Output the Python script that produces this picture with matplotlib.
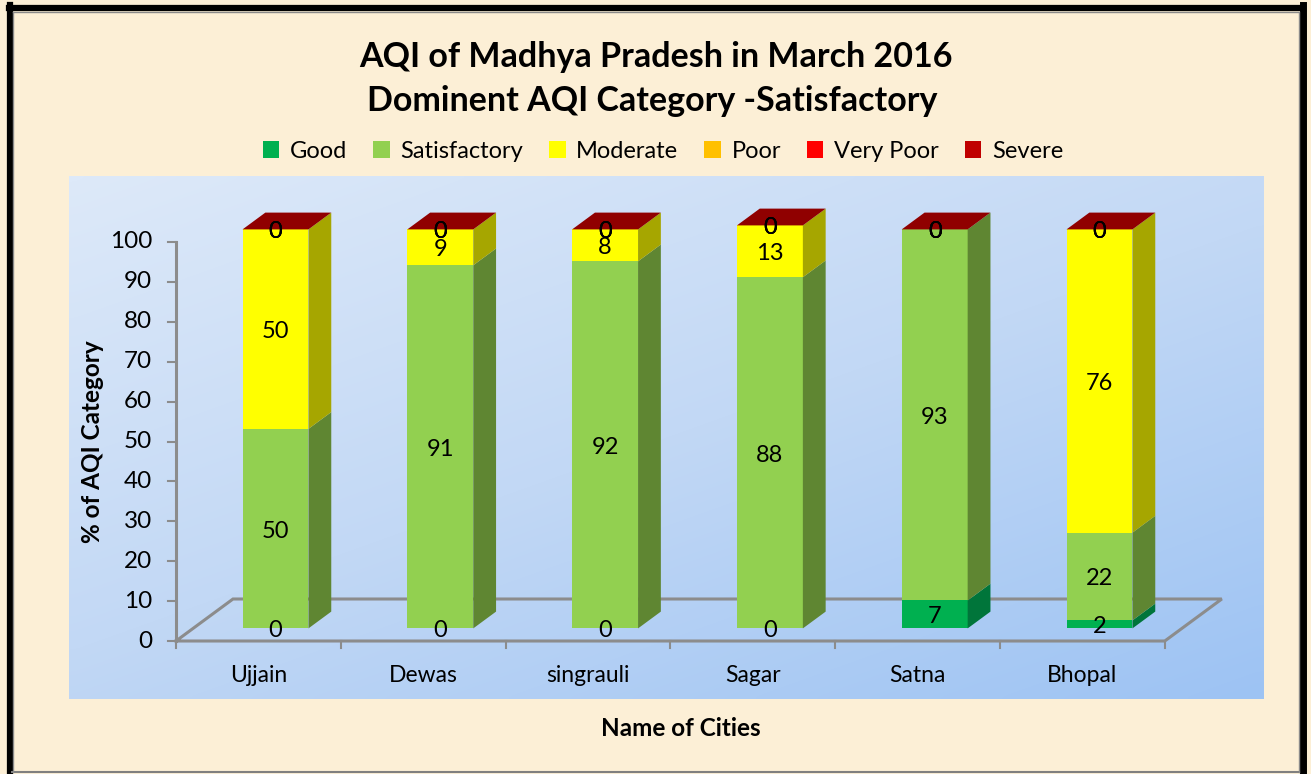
import numpy as np
import matplotlib
matplotlib.use("Agg")
import matplotlib.pyplot as plt
from matplotlib.patches import Polygon, Patch
from matplotlib.lines import Line2D
from matplotlib.colors import LinearSegmentedColormap

plt.rcParams['font.family'] = ['Lato', 'DejaVu Sans']

# ---------------- data ----------------
cities = ["Ujjain", "Dewas", "singrauli", "Sagar", "Satna", "Bhopal"]
series_names = ["Good", "Satisfactory", "Moderate", "Poor", "Very Poor", "Severe"]
good = [0, 0, 0, 0, 7, 2]
satisfactory = [50, 91, 92, 88, 93, 22]
moderate = [50, 9, 8, 13, 0, 76]
poor = [0, 0, 0, 0, 0, 0]
very_poor = [0, 0, 0, 0, 0, 0]
severe = [0, 0, 0, 0, 0, 0]
yticks = [0, 10, 20, 30, 40, 50, 60, 70, 80, 90, 100]

title = "AQI of Madhya Pradesh in March 2016\nDominent AQI Category -Satisfactory"
ylabel = "% of AQI Category"
xlabel = "Name of Cities"

# ---------------- styles ----------------
front_colors = ["#00B050", "#92D050", "#FFFF00", "#FFC000", "#FF0000", "#C00000"]
side_colors = ["#00753A", "#5F8632", "#A6A600", "#A67D00", "#A60000", "#8C0000"]
top_colors = ["#008A44", "#7AAE40", "#D0D000", "#D09C00", "#C00000", "#900000"]
bg = "#FCEFD6"
axis_gray = "#8C8C8C"

W, H = 1311, 774
fig = plt.figure(figsize=(W / 100, H / 100), dpi=100)
fig.patch.set_facecolor(bg)

# plot area (pixels): x 69..1264, y 176..699
px0, px1, py0, py1 = 69, 1264, 176, 699
ax = fig.add_axes([px0 / W, 1 - py1 / H, (px1 - px0) / W, (py1 - py0) / H])
ax.set_axis_off()

cx0, cstep = 258.4, 164.8
vy0, vstep = 641.0, 3.99
ax.set_xlim((px0 - cx0) / cstep, (px1 - cx0) / cstep)
ax.set_ylim((vy0 - py1) / vstep, (vy0 - py0) / vstep)

# gradient background: light top-left, deeper blue bottom-right
yy, xx = np.mgrid[0:1:120j, 0:1:120j]
grad = xx * 0.45 + yy * 0.55
cmap = LinearSegmentedColormap.from_list("bgblue", ["#DDE9F9", "#C2D8F5", "#9DC3F3"])
xl0, xl1 = ax.get_xlim()
yl0, yl1 = ax.get_ylim()
ax.imshow(grad, extent=[xl0, xl1, yl0, yl1], origin="upper", cmap=cmap,
          aspect="auto", zorder=0, interpolation="bicubic")

n = len(cities)
DX = 57 / cstep
DY = 42 / vstep
f_front, f_back = 0.3, 0.7
bw = 0.4

# floor
x_left, x_right = -0.5, n - 0.5
floor_pts = [(x_left, 0), (x_right, 0), (x_right + DX, DY), (x_left + DX, DY), (x_left, 0)]
ax.plot([p[0] for p in floor_pts], [p[1] for p in floor_pts], color=axis_gray, lw=2.2, zorder=1,
        solid_joinstyle="miter")

# y axis
ymax = yticks[-1]
ax.plot([x_left, x_left], [0, ymax], color=axis_gray, lw=2.2, zorder=1)
tick_len = 8 / cstep
for t in yticks:
    ax.plot([x_left - tick_len, x_left], [t, t], color=axis_gray, lw=1.5, zorder=1)
    ax.text(x_left - 24 / cstep, t, str(t), ha="right", va="center", fontsize=17.5, color="black")

# x ticks
for k in range(n + 1):
    xb = x_left + k
    ax.plot([xb, xb], [0, -7 / vstep], color=axis_gray, lw=1.5, zorder=1)
for i, c in enumerate(cities):
    ax.text(i, -35 / vstep, c, ha="center", va="center", fontsize=16.5, color="black")

# bars
data = [good, satisfactory, moderate, poor, very_poor, severe]
fx, fy = f_front * DX, f_front * DY
bx, by = f_back * DX, f_back * DY
for i in range(n):
    bottom = 0
    xl, xr = i - bw / 2, i + bw / 2
    labels = []
    for s in range(len(data)):
        v = data[s][i]
        top = bottom + v
        if v > 0:
            ax.add_patch(Polygon([(xl + fx, bottom + fy), (xr + fx, bottom + fy), (xr + fx, top + fy), (xl + fx, top + fy)],
                                 closed=True, facecolor=front_colors[s], edgecolor="none", zorder=3))
            ax.add_patch(Polygon([(xr + fx, bottom + fy), (xr + bx, bottom + by), (xr + bx, top + by), (xr + fx, top + fy)],
                                 closed=True, facecolor=side_colors[s], edgecolor="none", zorder=3))
        labels.append((i + fx, (bottom + top) / 2 + fy, v))
        bottom = top
    ax.add_patch(Polygon([(xl + fx, bottom + fy), (xr + fx, bottom + fy), (xr + bx, bottom + by), (xl + bx, bottom + by)],
                         closed=True, facecolor=top_colors[-1], edgecolor="none", zorder=4))
    for (lx, ly, v) in labels:
        ax.text(lx, ly - 0.6, f"{v:g}", ha="center", va="center", fontsize=17, color="black", zorder=6)

# titles
fig.text(656 / W, 1 - 57 / H, title.split("\n")[0], ha="center", va="center", fontsize=24.5, fontweight="bold")
fig.text(652 / W, 1 - 101 / H, title.split("\n")[1], ha="center", va="center", fontsize=24.5, fontweight="bold")
fig.text(92 / W, 1 - 442 / H, ylabel, ha="center", va="center", rotation=90, fontsize=17.5, fontweight="bold")
fig.text(681 / W, 1 - 729 / H, xlabel, ha="center", va="center", fontsize=17.5, fontweight="bold")

# legend
handles = [Patch(facecolor=c, edgecolor="none") for c in front_colors]
leg = fig.legend(handles, series_names, loc="center", bbox_to_anchor=(663 / W, 1 - 151 / H), ncol=6,
                 frameon=False, fontsize=17, handlelength=0.7, handleheight=0.7, handletextpad=0.45,
                 columnspacing=1.1)

# frame borders
fig.add_artist(Line2D([9 / W, 1303 / W], [1 - 7.5 / H, 1 - 7.5 / H], color="black", lw=4.5))
fig.add_artist(Line2D([9.5 / W, 9.5 / W], [0, 1 - 5 / H], color="black", lw=4.5))
fig.add_artist(Line2D([1302.5 / W, 1302.5 / W], [0, 1 - 5 / H], color="black", lw=5))
fig.add_artist(Line2D([12 / W, 1299 / W], [1 - 772 / H, 1 - 772 / H], color="#808080", lw=1.5))
fig.add_artist(Line2D([12.5 / W, 1298 / W], [1 - 11.5 / H, 1 - 11.5 / H], color="#8a8a8a", lw=1))
fig.add_artist(Line2D([12.5 / W, 12.5 / W], [1 - 772 / H, 1 - 11.5 / H], color="#8a8a8a", lw=1))
fig.add_artist(Line2D([1298.5 / W, 1298.5 / W], [1 - 772 / H, 1 - 11.5 / H], color="#8a8a8a", lw=1))

fig.savefig("out.png", dpi=100, facecolor=fig.get_facecolor())
